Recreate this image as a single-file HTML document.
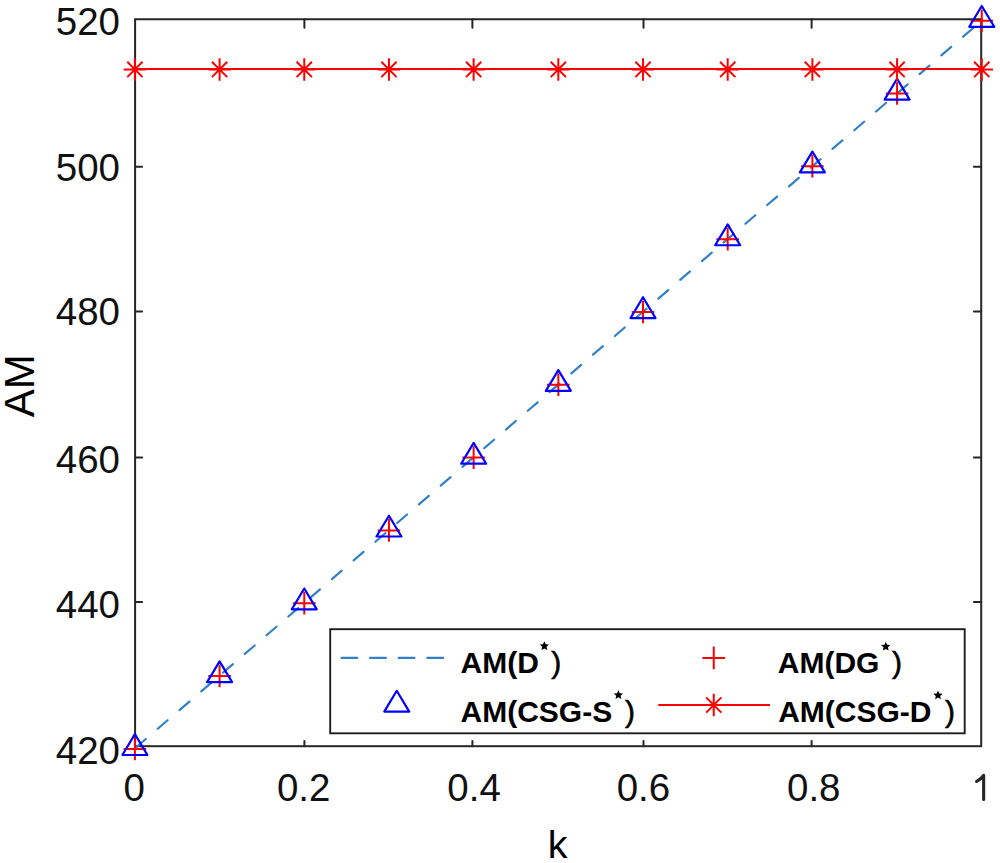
<!DOCTYPE html>
<html><head><meta charset="utf-8"><style>
html,body{margin:0;padding:0;background:#fff;}
body{width:1000px;height:863px;overflow:hidden;}
svg{display:block;}
.t{font-family:"Liberation Sans",sans-serif;font-size:38.5px;fill:#111;}
.lab{font-family:"Liberation Sans",sans-serif;font-size:42px;fill:#000;}
.lg{font-family:"Liberation Sans",sans-serif;font-size:30px;font-weight:bold;fill:#000;}
.lgr{font-family:"Liberation Sans",sans-serif;font-size:30px;fill:#000;stroke:#000;stroke-width:0.6px;}
</style></head><body>
<svg width="1000" height="863" viewBox="0 0 1000 863">
<g>
<rect x="0" y="0" width="1000" height="863" fill="#fff"/>
<rect x="135.1" y="19.25" width="846.10" height="726.95" fill="none" stroke="#262626" stroke-width="2"/>
<line x1="135.1" y1="166.8" x2="142.1" y2="166.8" stroke="#262626" stroke-width="2" stroke-linecap="round"/>
<line x1="981.2" y1="166.8" x2="973.9000000000001" y2="166.8" stroke="#262626" stroke-width="2" stroke-linecap="round"/>
<line x1="135.1" y1="311.5" x2="142.1" y2="311.5" stroke="#262626" stroke-width="2" stroke-linecap="round"/>
<line x1="981.2" y1="311.5" x2="973.9000000000001" y2="311.5" stroke="#262626" stroke-width="2" stroke-linecap="round"/>
<line x1="135.1" y1="457.4" x2="142.1" y2="457.4" stroke="#262626" stroke-width="2" stroke-linecap="round"/>
<line x1="981.2" y1="457.4" x2="973.9000000000001" y2="457.4" stroke="#262626" stroke-width="2" stroke-linecap="round"/>
<line x1="135.1" y1="602.1" x2="142.1" y2="602.1" stroke="#262626" stroke-width="2" stroke-linecap="round"/>
<line x1="981.2" y1="602.1" x2="973.9000000000001" y2="602.1" stroke="#262626" stroke-width="2" stroke-linecap="round"/>
<line x1="304.40" y1="746.2" x2="304.40" y2="741.0" stroke="#262626" stroke-width="2" stroke-linecap="round"/>
<line x1="304.40" y1="19.25" x2="304.40" y2="27.65" stroke="#262626" stroke-width="2" stroke-linecap="round"/>
<line x1="472.40" y1="746.2" x2="472.40" y2="741.0" stroke="#262626" stroke-width="2" stroke-linecap="round"/>
<line x1="472.40" y1="19.25" x2="472.40" y2="27.65" stroke="#262626" stroke-width="2" stroke-linecap="round"/>
<line x1="643.50" y1="746.2" x2="643.50" y2="741.0" stroke="#262626" stroke-width="2" stroke-linecap="round"/>
<line x1="643.50" y1="19.25" x2="643.50" y2="27.65" stroke="#262626" stroke-width="2" stroke-linecap="round"/>
<line x1="811.60" y1="746.2" x2="811.60" y2="741.0" stroke="#262626" stroke-width="2" stroke-linecap="round"/>
<line x1="811.60" y1="19.25" x2="811.60" y2="27.65" stroke="#262626" stroke-width="2" stroke-linecap="round"/>
<text x="120" y="21.15" dy="0.355em" text-anchor="end" class="t">520</text>
<text x="120" y="167.10" dy="0.355em" text-anchor="end" class="t">500</text>
<text x="120" y="311.50" dy="0.355em" text-anchor="end" class="t">480</text>
<text x="120" y="459.00" dy="0.355em" text-anchor="end" class="t">460</text>
<text x="120" y="604.00" dy="0.355em" text-anchor="end" class="t">440</text>
<text x="120" y="750.00" dy="0.355em" text-anchor="end" class="t">420</text>
<text x="134.10" y="801.2" text-anchor="middle" class="t">0</text>
<text x="303.67" y="801.2" text-anchor="middle" class="t">0.2</text>
<text x="474.14" y="801.2" text-anchor="middle" class="t">0.4</text>
<text x="643.41" y="801.2" text-anchor="middle" class="t">0.6</text>
<text x="813.78" y="801.2" text-anchor="middle" class="t">0.8</text>
<path d="M983.65 775.6 V799.4 M976.6 781.4 C979.6 779.8 982.2 777.8 983.65 775.4" stroke="#262626" stroke-width="3.1" fill="none" stroke-linecap="round"/>
<text x="557.6" y="858.4" text-anchor="middle" class="lab" style="font-size:39.5px">k</text>
<text transform="translate(34.2,385.75) rotate(-90)" x="0" y="0" text-anchor="middle" class="lab">AM</text>
<line x1="134.90" y1="748.38" x2="981.75" y2="20.68" stroke="#3181c8" stroke-width="2.2" stroke-dasharray="13 15.7" stroke-dashoffset="-1.4" stroke-linecap="round"/>
<path d="M123.60 748.88 H146.20 M134.90 737.58 V760.18" stroke="#ff0000" stroke-width="2" fill="none"/>
<path d="M208.28 676.06 H230.89 M219.59 664.76 V687.36" stroke="#ff0000" stroke-width="2" fill="none"/>
<path d="M292.97 603.24 H315.57 M304.27 591.94 V614.54" stroke="#ff0000" stroke-width="2" fill="none"/>
<path d="M377.66 530.42 H400.26 M388.96 519.12 V541.72" stroke="#ff0000" stroke-width="2" fill="none"/>
<path d="M462.34 457.60 H484.94 M473.64 446.30 V468.90" stroke="#ff0000" stroke-width="2" fill="none"/>
<path d="M547.03 384.78 H569.62 M558.33 373.48 V396.08" stroke="#ff0000" stroke-width="2" fill="none"/>
<path d="M631.71 311.96 H654.31 M643.01 300.66 V323.26" stroke="#ff0000" stroke-width="2" fill="none"/>
<path d="M716.39 239.14 H738.99 M727.69 227.84 V250.44" stroke="#ff0000" stroke-width="2" fill="none"/>
<path d="M801.08 166.32 H823.68 M812.38 155.02 V177.62" stroke="#ff0000" stroke-width="2" fill="none"/>
<path d="M885.77 93.50 H908.37 M897.07 82.20 V104.80" stroke="#ff0000" stroke-width="2" fill="none"/>
<path d="M970.45 20.68 H993.05 M981.75 9.38 V31.98" stroke="#ff0000" stroke-width="2" fill="none"/>
<path d="M134.90 734.18 L147.40 754.98 L122.40 754.98 Z" fill="none" stroke="#0000ff" stroke-width="2.2" stroke-linejoin="round"/>
<path d="M219.59 661.36 L232.09 682.16 L207.09 682.16 Z" fill="none" stroke="#0000ff" stroke-width="2.2" stroke-linejoin="round"/>
<path d="M304.27 588.54 L316.77 609.34 L291.77 609.34 Z" fill="none" stroke="#0000ff" stroke-width="2.2" stroke-linejoin="round"/>
<path d="M388.96 515.72 L401.46 536.52 L376.46 536.52 Z" fill="none" stroke="#0000ff" stroke-width="2.2" stroke-linejoin="round"/>
<path d="M473.64 442.90 L486.14 463.70 L461.14 463.70 Z" fill="none" stroke="#0000ff" stroke-width="2.2" stroke-linejoin="round"/>
<path d="M558.33 370.08 L570.83 390.88 L545.83 390.88 Z" fill="none" stroke="#0000ff" stroke-width="2.2" stroke-linejoin="round"/>
<path d="M643.01 297.26 L655.51 318.06 L630.51 318.06 Z" fill="none" stroke="#0000ff" stroke-width="2.2" stroke-linejoin="round"/>
<path d="M727.69 224.44 L740.19 245.24 L715.19 245.24 Z" fill="none" stroke="#0000ff" stroke-width="2.2" stroke-linejoin="round"/>
<path d="M812.38 151.62 L824.88 172.42 L799.88 172.42 Z" fill="none" stroke="#0000ff" stroke-width="2.2" stroke-linejoin="round"/>
<path d="M897.07 78.80 L909.57 99.60 L884.57 99.60 Z" fill="none" stroke="#0000ff" stroke-width="2.2" stroke-linejoin="round"/>
<path d="M981.75 5.98 L994.25 26.78 L969.25 26.78 Z" fill="none" stroke="#0000ff" stroke-width="2.2" stroke-linejoin="round"/>
<line x1="134.90" y1="68.9" x2="981.75" y2="68.9" stroke="#ff0000" stroke-width="2"/>
<path d="M123.65 69.45 H146.15 M134.90 58.20 V80.70 M127.25 61.80 L142.55 77.10 M127.25 77.10 L142.55 61.80" stroke="#ff0000" stroke-width="2" fill="none"/>
<path d="M208.34 69.45 H230.84 M219.59 58.20 V80.70 M211.94 61.80 L227.24 77.10 M211.94 77.10 L227.24 61.80" stroke="#ff0000" stroke-width="2" fill="none"/>
<path d="M293.02 69.45 H315.52 M304.27 58.20 V80.70 M296.62 61.80 L311.92 77.10 M296.62 77.10 L311.92 61.80" stroke="#ff0000" stroke-width="2" fill="none"/>
<path d="M377.71 69.45 H400.21 M388.96 58.20 V80.70 M381.31 61.80 L396.61 77.10 M381.31 77.10 L396.61 61.80" stroke="#ff0000" stroke-width="2" fill="none"/>
<path d="M462.39 69.45 H484.89 M473.64 58.20 V80.70 M465.99 61.80 L481.29 77.10 M465.99 77.10 L481.29 61.80" stroke="#ff0000" stroke-width="2" fill="none"/>
<path d="M547.08 69.45 H569.58 M558.33 58.20 V80.70 M550.68 61.80 L565.98 77.10 M550.68 77.10 L565.98 61.80" stroke="#ff0000" stroke-width="2" fill="none"/>
<path d="M631.76 69.45 H654.26 M643.01 58.20 V80.70 M635.36 61.80 L650.66 77.10 M635.36 77.10 L650.66 61.80" stroke="#ff0000" stroke-width="2" fill="none"/>
<path d="M716.44 69.45 H738.94 M727.69 58.20 V80.70 M720.04 61.80 L735.34 77.10 M720.04 77.10 L735.34 61.80" stroke="#ff0000" stroke-width="2" fill="none"/>
<path d="M801.13 69.45 H823.63 M812.38 58.20 V80.70 M804.73 61.80 L820.03 77.10 M804.73 77.10 L820.03 61.80" stroke="#ff0000" stroke-width="2" fill="none"/>
<path d="M885.82 69.45 H908.32 M897.07 58.20 V80.70 M889.42 61.80 L904.72 77.10 M889.42 77.10 L904.72 61.80" stroke="#ff0000" stroke-width="2" fill="none"/>
<path d="M970.50 69.45 H993.00 M981.75 58.20 V80.70 M974.10 61.80 L989.40 77.10 M974.10 77.10 L989.40 61.80" stroke="#ff0000" stroke-width="2" fill="none"/>
<rect x="330.2" y="629.2" width="634.50" height="104.10" fill="#fff" stroke="#1e1e1e" stroke-width="1.9"/>
<line x1="341.5" y1="657.9" x2="446" y2="657.9" stroke="#3181c8" stroke-width="2.2" stroke-dasharray="15.8 12.8" stroke-linecap="round"/>
<path d="M396.75 690.80 L409.25 711.60 L384.25 711.60 Z" fill="none" stroke="#0000ff" stroke-width="2.2" stroke-linejoin="round"/>
<path d="M702.45 657.90 H725.05 M713.75 646.60 V669.20" stroke="#ff0000" stroke-width="2" fill="none"/>
<line x1="658.25" y1="705.0" x2="770" y2="705.0" stroke="#ff0000" stroke-width="2"/>
<path d="M702.50 705.00 H725.00 M713.75 693.75 V716.25 M706.10 697.35 L721.40 712.65 M706.10 712.65 L721.40 697.35" stroke="#ff0000" stroke-width="2" fill="none"/>
<text x="460.5" y="673" class="lg">AM(D</text><polygon points="544.35,641.20 545.70,644.24 549.01,644.59 546.54,646.81 547.23,650.06 544.35,648.40 541.47,650.06 542.16,646.81 539.69,644.59 543.00,644.24" fill="#000"/><text x="551.2" y="673" class="lgr">)</text>
<text x="460.5" y="722.4" class="lg">AM(CSG-S</text><polygon points="618.40,690.10 619.75,693.14 623.06,693.49 620.59,695.71 621.28,698.96 618.40,697.30 615.52,698.96 616.21,695.71 613.74,693.49 617.05,693.14" fill="#000"/><text x="625" y="722.4" class="lgr">)</text>
<text x="777.8" y="673" class="lg">AM(DG</text><polygon points="885.75,641.70 887.10,644.74 890.41,645.09 887.94,647.31 888.63,650.56 885.75,648.90 882.87,650.56 883.56,647.31 881.09,645.09 884.40,644.74" fill="#000"/><text x="891.9" y="673" class="lgr">)</text>
<text x="778.2" y="722.4" class="lg">AM(CSG-D</text><polygon points="938.00,690.40 939.35,693.44 942.66,693.79 940.19,696.01 940.88,699.26 938.00,697.60 935.12,699.26 935.81,696.01 933.34,693.79 936.65,693.44" fill="#000"/><text x="945" y="722.4" class="lgr">)</text>
</g>
</svg>
</body></html>
